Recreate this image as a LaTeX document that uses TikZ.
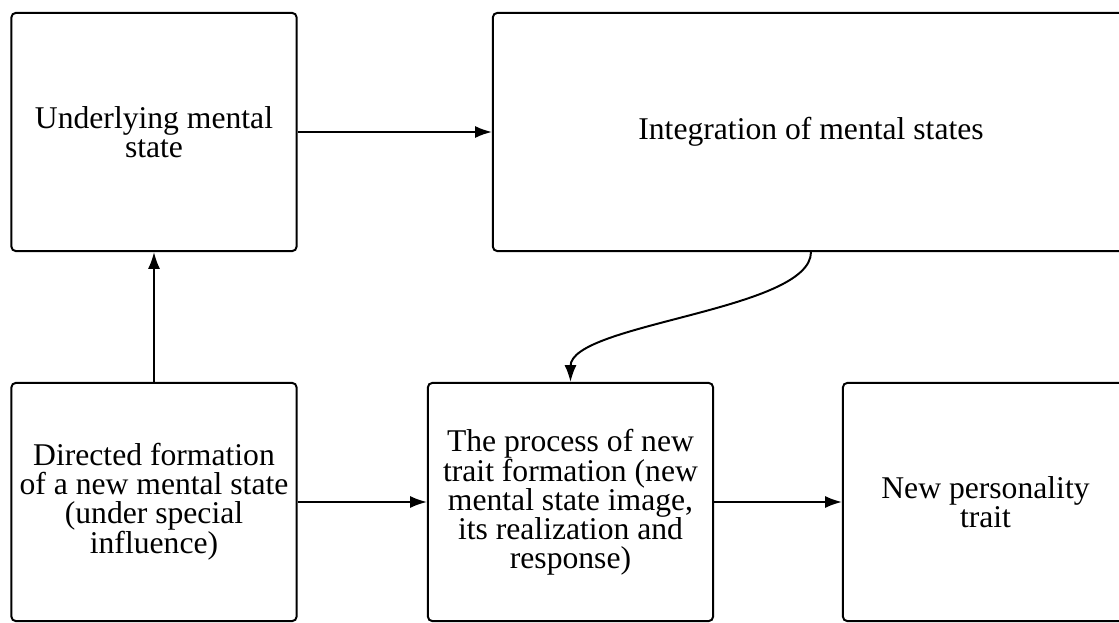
\documentclass[tikz,border=0pt]{standalone}
\usepackage{fontspec}
\setmainfont{Liberation Serif}
\usetikzlibrary{arrows.meta}

\begin{document}
\begin{tikzpicture}[x=0.025cm,y=-0.025cm]

      \useasboundingbox (0,0) rectangle (1119,623);
      \clip (0,0) rectangle (1119,623);

      \begin{scope}[every node/.style={draw,line width=1.4pt,rounded corners=3pt,
          align=center,minimum width=7.125cm,minimum height=5.95cm,
          font=\fontsize{22.5}{20.5}\selectfont}]
        \node (under)    at (154,132) {Underlying mental\\state};
        \node[minimum width=15.9cm] (integ) at (811,132) {Integration of mental states};
        \node (directed) at (154,502) {Directed formation\\of a new mental state\\(under special\\influence)};
        \node (process)  at (570.5,502) {The process of new\\trait formation (new\\mental state image,\\its realization and\\response)};
        \node (trait)    at (985.5,502) {New personality\\trait};
      \end{scope}

      \begin{scope}[line width=1.4pt,-{Latex[length=4.2mm,width=3mm]},every edge/.style={draw}]
        \path (under)    edge (integ);
        \path (directed) edge (under);
        \path (directed) edge (process);
        \path (process)  edge (trait);
        \path (integ.south) edge[out=-90,in=90,looseness=0.55] (process.north);
      \end{scope}

    \end{tikzpicture}
\end{document}
